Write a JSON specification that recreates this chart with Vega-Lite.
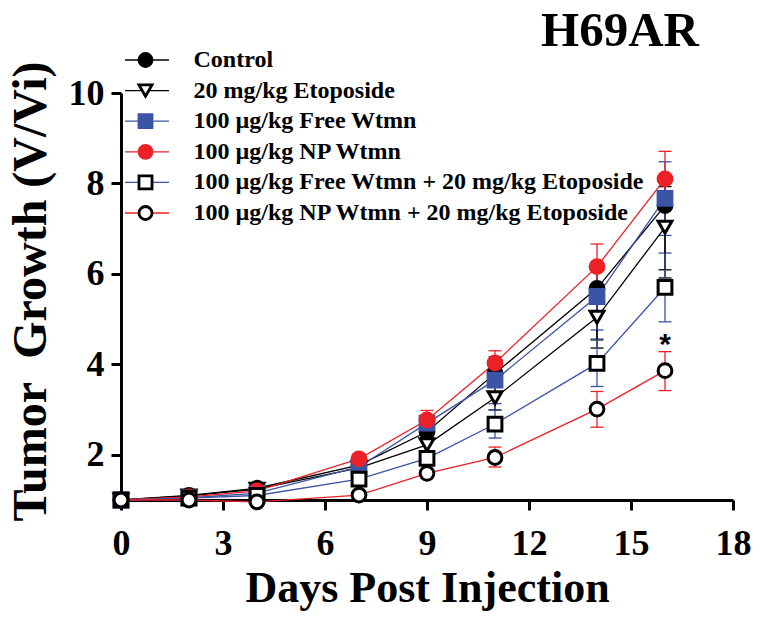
{
  "$schema": "https://vega.github.io/schema/vega-lite/v6.json",
  "width": 612,
  "height": 407,
  "autosize": "none",
  "padding": {"left": 121, "top": 93, "right": 29, "bottom": 121},
  "background": "white",
  "config": {"view": {"stroke": null}, "font": "Liberation Serif"},
  "title": {"text": "H69AR", "font": "Liberation Serif", "fontSize": 49, "fontWeight": "bold", "color": "black", "anchor": "end", "orient": "top", "dx": -52, "dy": 50, "baseline": "alphabetic", "offset": 3},
  "data": {"values": [
    {"group": "Control", "day": 0, "v": 1.0, "lo": 1.0, "hi": 1.0},
    {"group": "Control", "day": 2, "v": 1.10, "lo": 1.07, "hi": 1.13},
    {"group": "Control", "day": 4, "v": 1.26, "lo": 1.21, "hi": 1.31},
    {"group": "Control", "day": 7, "v": 1.77, "lo": 1.67, "hi": 1.87},
    {"group": "Control", "day": 9, "v": 2.51, "lo": 2.36, "hi": 2.66},
    {"group": "Control", "day": 11, "v": 3.80, "lo": 3.50, "hi": 4.10},
    {"group": "Control", "day": 14, "v": 5.68, "lo": 4.36, "hi": 6.16},
    {"group": "Control", "day": 16, "v": 7.51, "lo": 6.09, "hi": 8.10},
    {"group": "20 mg/kg Etoposide", "day": 0, "v": 1.0, "lo": 1.0, "hi": 1.0},
    {"group": "20 mg/kg Etoposide", "day": 2, "v": 1.09, "lo": 1.06, "hi": 1.12},
    {"group": "20 mg/kg Etoposide", "day": 4, "v": 1.24, "lo": 1.19, "hi": 1.29},
    {"group": "20 mg/kg Etoposide", "day": 7, "v": 1.71, "lo": 1.61, "hi": 1.81},
    {"group": "20 mg/kg Etoposide", "day": 9, "v": 2.22, "lo": 2.07, "hi": 2.37},
    {"group": "20 mg/kg Etoposide", "day": 11, "v": 3.26, "lo": 2.99, "hi": 3.53},
    {"group": "20 mg/kg Etoposide", "day": 14, "v": 5.04, "lo": 4.54, "hi": 5.54},
    {"group": "20 mg/kg Etoposide", "day": 16, "v": 7.03, "lo": 5.91, "hi": 7.93},
    {"group": "100 µg/kg Free Wtmn", "day": 0, "v": 1.0, "lo": 1.0, "hi": 1.0},
    {"group": "100 µg/kg Free Wtmn", "day": 2, "v": 1.05, "lo": 1.02, "hi": 1.08},
    {"group": "100 µg/kg Free Wtmn", "day": 4, "v": 1.15, "lo": 1.10, "hi": 1.20},
    {"group": "100 µg/kg Free Wtmn", "day": 7, "v": 1.73, "lo": 1.63, "hi": 1.83},
    {"group": "100 µg/kg Free Wtmn", "day": 9, "v": 2.70, "lo": 2.55, "hi": 2.85},
    {"group": "100 µg/kg Free Wtmn", "day": 11, "v": 3.65, "lo": 3.13, "hi": 4.17},
    {"group": "100 µg/kg Free Wtmn", "day": 14, "v": 5.50, "lo": 4.76, "hi": 6.24},
    {"group": "100 µg/kg Free Wtmn", "day": 16, "v": 7.67, "lo": 6.85, "hi": 8.48},
    {"group": "100 µg/kg NP Wtmn", "day": 0, "v": 1.0, "lo": 1.0, "hi": 1.0},
    {"group": "100 µg/kg NP Wtmn", "day": 2, "v": 1.07, "lo": 1.04, "hi": 1.10},
    {"group": "100 µg/kg NP Wtmn", "day": 4, "v": 1.20, "lo": 1.14, "hi": 1.26},
    {"group": "100 µg/kg NP Wtmn", "day": 7, "v": 1.91, "lo": 1.80, "hi": 2.02},
    {"group": "100 µg/kg NP Wtmn", "day": 9, "v": 2.77, "lo": 2.56, "hi": 2.98},
    {"group": "100 µg/kg NP Wtmn", "day": 11, "v": 4.03, "lo": 3.76, "hi": 4.30},
    {"group": "100 µg/kg NP Wtmn", "day": 14, "v": 6.16, "lo": 5.66, "hi": 6.66},
    {"group": "100 µg/kg NP Wtmn", "day": 16, "v": 8.10, "lo": 7.49, "hi": 8.71},
    {"group": "100 µg/kg Free Wtmn + 20 mg/kg Etoposide", "day": 0, "v": 1.0, "lo": 1.0, "hi": 1.0},
    {"group": "100 µg/kg Free Wtmn + 20 mg/kg Etoposide", "day": 2, "v": 1.04, "lo": 1.01, "hi": 1.07},
    {"group": "100 µg/kg Free Wtmn + 20 mg/kg Etoposide", "day": 4, "v": 1.10, "lo": 1.05, "hi": 1.15},
    {"group": "100 µg/kg Free Wtmn + 20 mg/kg Etoposide", "day": 7, "v": 1.46, "lo": 1.38, "hi": 1.54},
    {"group": "100 µg/kg Free Wtmn + 20 mg/kg Etoposide", "day": 9, "v": 1.92, "lo": 1.82, "hi": 2.02},
    {"group": "100 µg/kg Free Wtmn + 20 mg/kg Etoposide", "day": 11, "v": 2.68, "lo": 2.37, "hi": 2.99},
    {"group": "100 µg/kg Free Wtmn + 20 mg/kg Etoposide", "day": 14, "v": 4.02, "lo": 3.51, "hi": 4.56},
    {"group": "100 µg/kg Free Wtmn + 20 mg/kg Etoposide", "day": 16, "v": 5.70, "lo": 4.94, "hi": 6.46},
    {"group": "100 µg/kg NP Wtmn + 20 mg/kg Etoposide", "day": 0, "v": 1.0, "lo": 1.0, "hi": 1.0},
    {"group": "100 µg/kg NP Wtmn + 20 mg/kg Etoposide", "day": 2, "v": 1.00, "lo": 0.98, "hi": 1.02},
    {"group": "100 µg/kg NP Wtmn + 20 mg/kg Etoposide", "day": 4, "v": 0.96, "lo": 0.93, "hi": 0.99},
    {"group": "100 µg/kg NP Wtmn + 20 mg/kg Etoposide", "day": 7, "v": 1.11, "lo": 1.06, "hi": 1.16},
    {"group": "100 µg/kg NP Wtmn + 20 mg/kg Etoposide", "day": 9, "v": 1.59, "lo": 1.51, "hi": 1.67},
    {"group": "100 µg/kg NP Wtmn + 20 mg/kg Etoposide", "day": 11, "v": 1.94, "lo": 1.73, "hi": 2.17},
    {"group": "100 µg/kg NP Wtmn + 20 mg/kg Etoposide", "day": 14, "v": 3.01, "lo": 2.61, "hi": 3.40},
    {"group": "100 µg/kg NP Wtmn + 20 mg/kg Etoposide", "day": 16, "v": 3.86, "lo": 3.42, "hi": 4.28}
  ]},
  "encoding": {
    "x": {"field": "day", "type": "quantitative", "scale": {"domain": [0, 18], "nice": false, "zero": false},
      "axis": {"title": "Days Post Injection", "values": [0, 3, 6, 9, 12, 15, 18], "grid": false, "labelFlush": false,
        "domainWidth": 3, "domainColor": "black", "tickWidth": 3, "tickColor": "black", "tickSize": 10,
        "labelFont": "Liberation Serif", "labelFontSize": 36, "labelFontWeight": "bold", "labelColor": "black", "labelPadding": 16,
        "titleFont": "Liberation Serif", "titleFontSize": 44, "titleFontWeight": "bold", "titleColor": "black",
        "titleBaseline": "alphabetic", "titleY": 101}}
  },
  "layer": [
    {
      "mark": {"type": "errorbar", "ticks": {"opacity": 1}, "rule": {"opacity": 1}, "size": 13, "thickness": 1.3},
      "encoding": {
        "y": {"field": "lo", "type": "quantitative", "title": "Tumor \u00a0Growth (V/Vi)", "scale": {"domain": [1, 10], "nice": false, "zero": false}},
        "y2": {"field": "hi"},
        "color": {"field": "group", "type": "nominal",
          "sort": ["Control", "20 mg/kg Etoposide", "100 µg/kg Free Wtmn", "100 µg/kg NP Wtmn", "100 µg/kg Free Wtmn + 20 mg/kg Etoposide", "100 µg/kg NP Wtmn + 20 mg/kg Etoposide"],
          "scale": {"range": ["#000000", "#000000", "#3b54a5", "#ec2027", "#3b54a5", "#ec2027"]},
          "legend": {"orient": "none", "legendX": 3, "legendY": -45, "title": null, "symbolType": "stroke", "symbolSize": 1936, "symbolStrokeWidth": 1.3,
            "labelFont": "Liberation Serif", "labelFontSize": 24, "labelFontWeight": "bold", "labelOpacity": 0, "labelLimit": 1000, "clipHeight": 24, "rowPadding": 6.6, "padding": 0, "labelOffset": 26}}
      }
    },
    {
      "mark": {"type": "line", "strokeWidth": 1.3},
      "encoding": {
        "y": {"field": "v", "type": "quantitative", "title": "Tumor \u00a0Growth (V/Vi)"},
        "color": {"field": "group", "type": "nominal",
          "sort": ["Control", "20 mg/kg Etoposide", "100 µg/kg Free Wtmn", "100 µg/kg NP Wtmn", "100 µg/kg Free Wtmn + 20 mg/kg Etoposide", "100 µg/kg NP Wtmn + 20 mg/kg Etoposide"],
          "scale": {"range": ["#000000", "#000000", "#3b54a5", "#ec2027", "#3b54a5", "#ec2027"]}}
      }
    },
    {
      "mark": {"type": "point", "size": 190, "strokeWidth": 3, "opacity": 1},
      "encoding": {
        "y": {"field": "v", "type": "quantitative", "title": "Tumor \u00a0Growth (V/Vi)",
          "axis": {"grid": false, "values": [2, 4, 6, 8, 10], "domainWidth": 3, "domainColor": "black", "tickWidth": 3, "tickColor": "black", "tickSize": 10,
            "labelFont": "Liberation Serif", "labelFontSize": 36, "labelFontWeight": "bold", "labelColor": "black", "labelPadding": 7,
            "titleFont": "Liberation Serif", "titleFontSize": 48, "titleFontWeight": "bold", "titleColor": "black",
            "titleBaseline": "alphabetic", "titleAngle": 270, "titleAlign": "center", "titleX": -76, "titleY": 198}},
        "shape": {"field": "group", "type": "nominal",
          "scale": {"domain": ["Control", "20 mg/kg Etoposide", "100 µg/kg Free Wtmn", "100 µg/kg NP Wtmn", "100 µg/kg Free Wtmn + 20 mg/kg Etoposide", "100 µg/kg NP Wtmn + 20 mg/kg Etoposide"],
            "range": ["circle", "triangle-down", "square", "circle", "square", "circle"]},
          "legend": {"orient": "none", "legendX": 12.5, "legendY": -45, "title": null, "symbolSize": 170, "symbolStrokeWidth": 2.8, "symbolOpacity": 1,
            "labelFont": "Liberation Serif", "labelFontSize": 24, "labelFontWeight": "bold", "labelColor": "black", "labelLimit": 1000, "clipHeight": 24, "rowPadding": 6.6, "padding": 0, "labelOffset": 36}},
        "fill": {"field": "group", "type": "nominal",
          "scale": {"domain": ["Control", "20 mg/kg Etoposide", "100 µg/kg Free Wtmn", "100 µg/kg NP Wtmn", "100 µg/kg Free Wtmn + 20 mg/kg Etoposide", "100 µg/kg NP Wtmn + 20 mg/kg Etoposide"],
            "range": ["#000000", "#ffffff", "#3b54a5", "#ec2027", "#ffffff", "#ffffff"]},
          "legend": {"orient": "none", "legendX": 12.5, "legendY": -45, "title": null, "symbolSize": 170, "symbolStrokeWidth": 2.8, "symbolOpacity": 1,
            "labelFont": "Liberation Serif", "labelFontSize": 24, "labelFontWeight": "bold", "labelColor": "black", "labelLimit": 1000, "clipHeight": 24, "rowPadding": 6.6, "padding": 0, "labelOffset": 36}},
        "stroke": {"field": "group", "type": "nominal",
          "scale": {"domain": ["Control", "20 mg/kg Etoposide", "100 µg/kg Free Wtmn", "100 µg/kg NP Wtmn", "100 µg/kg Free Wtmn + 20 mg/kg Etoposide", "100 µg/kg NP Wtmn + 20 mg/kg Etoposide"],
            "range": ["#000000", "#000000", "#3b54a5", "#ec2027", "#000000", "#000000"]},
          "legend": {"orient": "none", "legendX": 12.5, "legendY": -45, "title": null, "symbolSize": 170, "symbolStrokeWidth": 2.8, "symbolOpacity": 1,
            "labelFont": "Liberation Serif", "labelFontSize": 24, "labelFontWeight": "bold", "labelColor": "black", "labelLimit": 1000, "clipHeight": 24, "rowPadding": 6.6, "padding": 0, "labelOffset": 36}}
      }
    },
    {
      "data": {"values": [{"day": 16, "y": 4.23, "label": "*"}]},
      "mark": {"type": "text", "font": "Liberation Sans", "fontSize": 30, "fontWeight": "bold", "color": "black", "align": "center", "baseline": "alphabetic"},
      "encoding": {
        "y": {"field": "y", "type": "quantitative", "title": "Tumor \u00a0Growth (V/Vi)"},
        "text": {"field": "label"}
      }
    }
  ]
}
